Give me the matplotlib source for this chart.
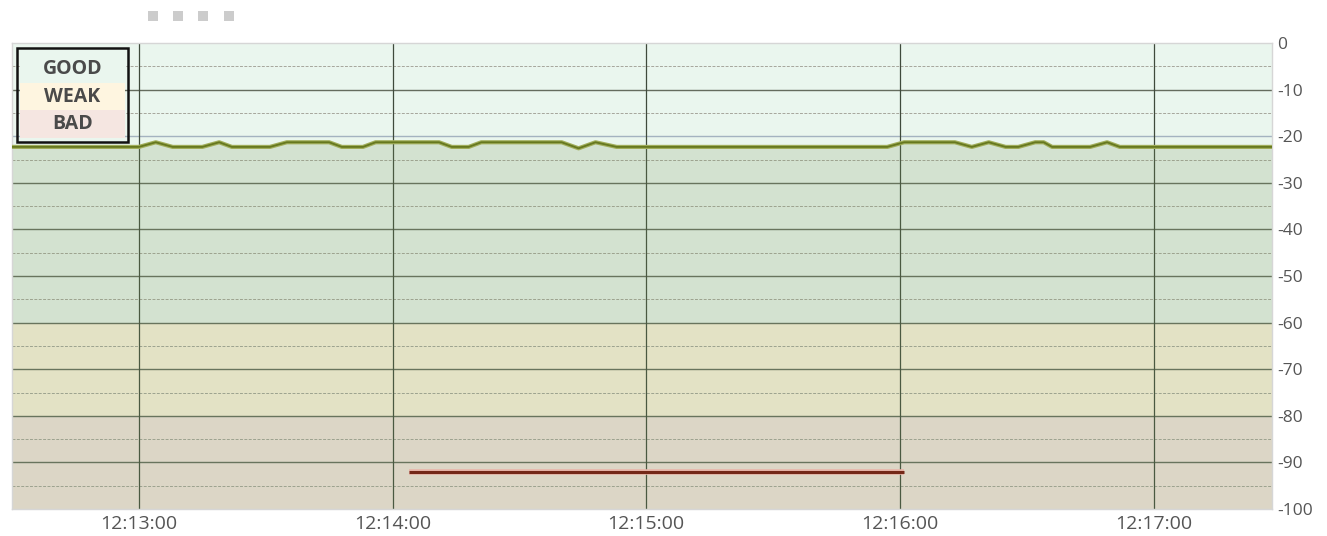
import numpy as np
import pandas as pd
import matplotlib
matplotlib.use("Agg")
import matplotlib.pyplot as plt
import matplotlib.dates as mdates
from matplotlib.patches import Rectangle

plt.rcParams['font.family'] = ['Open Sans', 'DejaVu Sans']
plt.rcParams['axes.unicode_minus'] = False

# signal samples (time, dBm)
sig_times = ["12:12:29", "12:13:00", "12:13:04", "12:13:08", "12:13:15", "12:13:19",
             "12:13:22", "12:13:31", "12:13:35", "12:13:45", "12:13:48", "12:13:53",
             "12:13:56", "12:14:11", "12:14:14", "12:14:18", "12:14:21", "12:14:40",
             "12:14:44", "12:14:48", "12:14:53", "12:15:57", "12:16:01", "12:16:13",
             "12:16:17", "12:16:21", "12:16:25", "12:16:28", "12:16:32", "12:16:34",
             "12:16:36", "12:16:45", "12:16:49", "12:16:52", "12:17:29"]
sig_values = [-22.3, -22.3, -21.3, -22.3, -22.3, -21.3,
              -22.3, -22.3, -21.3, -21.3, -22.3, -22.3,
              -21.3, -21.3, -22.3, -22.3, -21.3, -21.3,
              -22.6, -21.3, -22.3, -22.3, -21.3, -21.3,
              -22.3, -21.3, -22.3, -22.3, -21.3, -21.3,
              -22.3, -22.3, -21.3, -22.3, -22.3]

# second series (red)
red_times = ["12:14:04", "12:16:01"]
red_values = [-92, -92]

# quality bands
band_names = ["GOOD", "WEAK", "BAD"]
band_top = [0, -60, -80]
band_bottom = [-60, -80, -100]
band_colors = ["#eaf6ee", "#fef5e0", "#f5e6e1"]

x_ticks = ["12:13:00", "12:14:00", "12:15:00", "12:16:00", "12:17:00"]
y_ticks = [0, -10, -20, -30, -40, -50, -60, -70, -80, -90, -100]
x_range = ["12:12:30", "12:17:28"]


def to_dt(lst):
    return pd.to_datetime(["2024-01-01 " + t for t in lst])


fig = plt.figure(figsize=(13.27, 5.36), dpi=100)
ax = fig.add_axes([12 / 1327, 1 - 509 / 536, 1260 / 1327, 466 / 536])

xr = to_dt(x_range)
ax.set_xlim(xr[0], xr[1])
ax.set_ylim(-100, 0)

# bands
for top, bot, col in zip(band_top, band_bottom, band_colors):
    ax.axhspan(bot, top, color=col, zorder=0, lw=0)

# grid lines
for v in np.arange(-5, -100, -10):
    ax.axhline(v, color="#a6a69c", lw=0.7, ls=(0, (3, 1.5)), zorder=1)
for v in y_ticks[1:-1]:
    c = "#a4b3c0" if v == -20 else "#656c5e"
    ax.axhline(v, color=c, lw=1.0, zorder=1)
for t in to_dt(x_ticks):
    ax.axvline(t, color="#3f4a3c", lw=0.9, zorder=1)

# signal area + line
st = to_dt(sig_times)
ax.fill_between(st, sig_values, -100, color="#78965a", alpha=0.2, lw=0, zorder=2)
ax.plot(st, sig_values, color="#a0ad5a", lw=3.0, zorder=3)
ax.plot(st, sig_values, color="#66781f", lw=1.3, zorder=3)

rt = to_dt(red_times)
ax.plot(rt, red_values, color="#e8b4a8", lw=4.0, zorder=3, solid_capstyle="butt")
ax.plot(rt, red_values, color="#742818", lw=2.2, zorder=4, solid_capstyle="butt")

# axes format
ax.set_xticks(to_dt(x_ticks))
ax.xaxis.set_major_formatter(mdates.DateFormatter("%H:%M:%S"))
ax.set_yticks(y_ticks)
ax.yaxis.tick_right()
ax.tick_params(axis="x", length=0, labelsize=14, colors="#555555", pad=4)
ax.tick_params(axis="y", length=0, labelsize=12.5, colors="#555555", pad=4)
for s in ax.spines.values():
    s.set_color("#d6d6d6")
    s.set_linewidth(1)

# legend box
W, H = 1327, 536
lx0, lx1, ly_top, ly_bot = 17, 128, 48, 142
row_edges = [54, 83, 110, 138]
row_centers = [69, 97, 124]
for i, (name, col) in enumerate(zip(band_names, band_colors)):
    fig.patches.append(Rectangle(((lx0 + 3) / W, 1 - row_edges[i + 1] / H),
                                 (lx1 - lx0 - 6) / W,
                                 (row_edges[i + 1] - row_edges[i]) / H,
                                 transform=fig.transFigure, facecolor=col,
                                 edgecolor="none", zorder=5))
    fig.text((lx0 + lx1) / 2 / W, 1 - row_centers[i] / H, name, ha="center",
             va="center", fontsize=14, fontweight="bold", color="#4a4a4a", zorder=6)
fig.patches.append(Rectangle((lx0 / W, 1 - ly_bot / H), (lx1 - lx0) / W,
                             (ly_bot - ly_top) / H, transform=fig.transFigure,
                             facecolor="none", edgecolor="#111111", lw=1.8, zorder=7))

# toolbar squares on top
for xs in [148, 173, 198, 224]:
    fig.patches.append(Rectangle((xs / W, 1 - 21 / H), 10 / W, 10 / H,
                                 transform=fig.transFigure, facecolor="#cccccc",
                                 edgecolor="none"))

fig.savefig("out.png", dpi=100, facecolor="white")
